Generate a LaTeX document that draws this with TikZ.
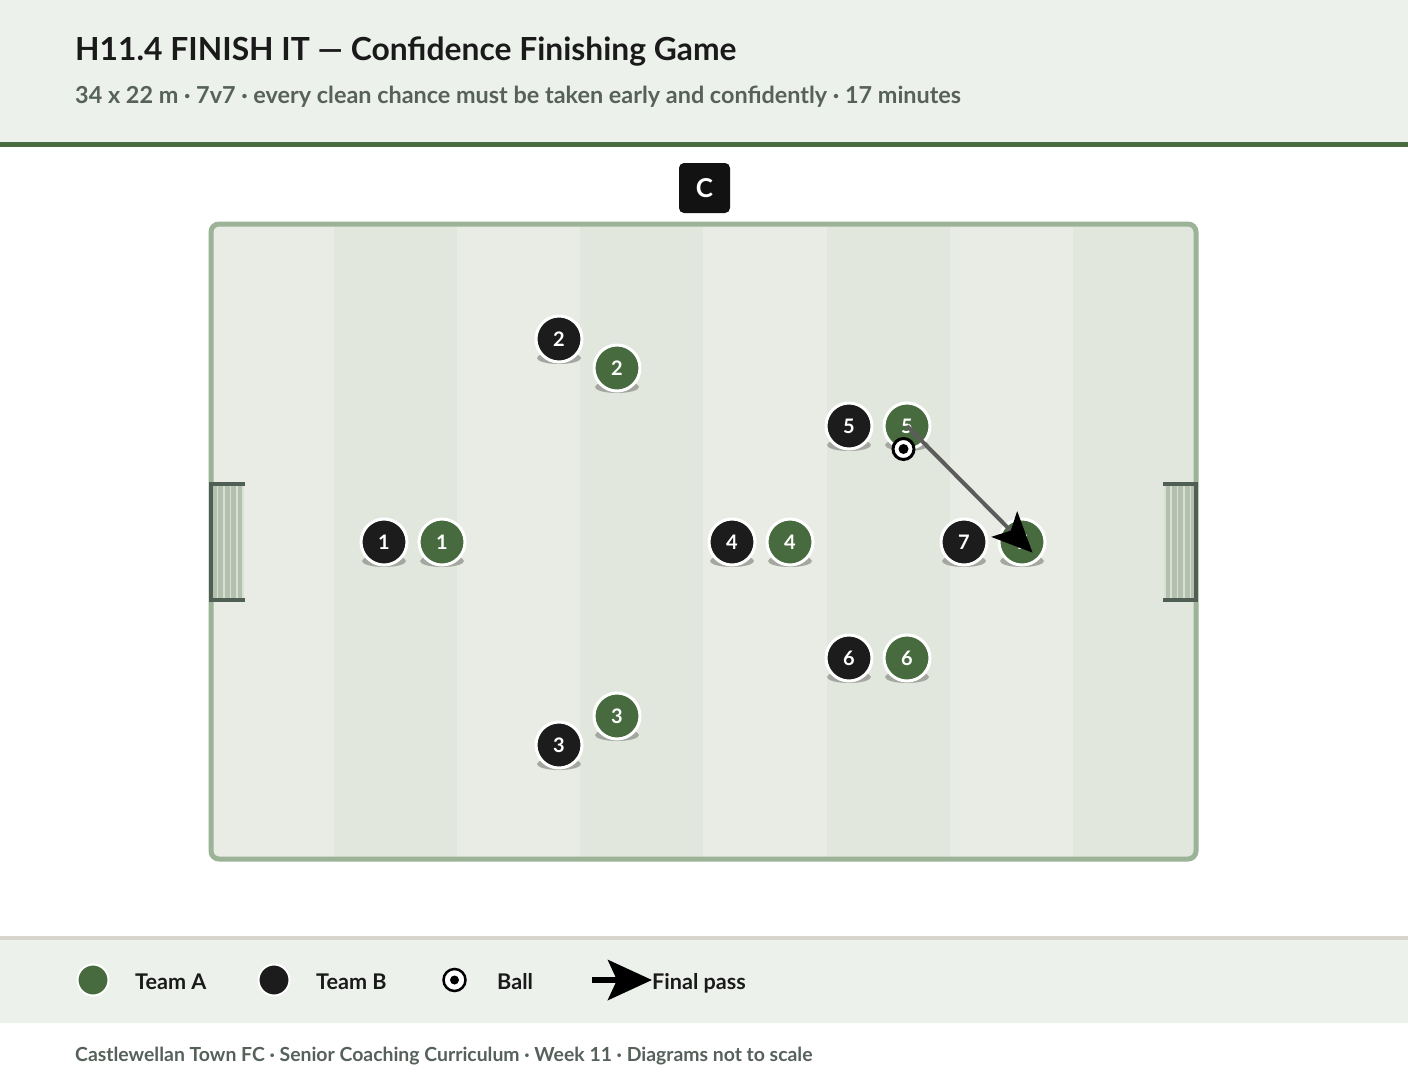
\documentclass[tikz,border=0pt]{standalone}
\usepackage{fontspec}
\setmainfont{Lato}
\usetikzlibrary{arrows.meta,calc}
\definecolor{bandbg}{HTML}{EDF1EC}
\definecolor{rulegreen}{HTML}{4A6B40}
\definecolor{legline}{HTML}{D8D5CD}
\definecolor{stripeL}{HTML}{E8ECE5}
\definecolor{stripeD}{HTML}{E1E7DD}
\definecolor{pitchline}{HTML}{9DB398}
\definecolor{postc}{HTML}{505F53}
\definecolor{netc}{HTML}{B3C0AE}
\definecolor{netl}{HTML}{D9E0D6}
\definecolor{teamA}{HTML}{476B3E}
\definecolor{teamB}{HTML}{1C1C1C}
\definecolor{shadowc}{HTML}{A3A7A0}
\definecolor{titlec}{HTML}{1A1A1A}
\definecolor{subc}{HTML}{55615A}
\definecolor{passc}{HTML}{5C5C5C}
\tikzset{
  plA/.style={circle, fill=teamA, draw=white, line width=3pt, minimum size=46pt,
    inner sep=0pt, text=white, font=\bfseries\fontsize{20}{20}\selectfont},
  plB/.style={plA, fill=teamB},
  ballnode/.style={circle, fill=white, draw=black, line width=3pt, minimum size=21pt, inner sep=0pt},
  legtext/.style={anchor=base west, inner sep=0pt, text=titlec, font=\bfseries\fontsize{21.6}{21.6}\selectfont},
  passarrow/.style={draw=passc, line width=4pt,
    -{Stealth[length=40pt, width=36pt, inset=9pt, fill=black, color=black]}},
}
\newcommand\plyr[5]{%
  \fill[shadowc] (#3,#4+19) ellipse [x radius=22, y radius=6];
  \node[#2] (#1) at (#3,#4) {#5};}
\begin{document}
\begin{tikzpicture}[x=1pt,y=-1pt]
\useasboundingbox (0,0) rectangle (1408,1080);
\fill[white] (0,0) rectangle (1408,1080);
% header
\fill[bandbg] (0,0) rectangle (1408,142);
\fill[rulegreen] (0,142) rectangle (1408,147);
\node[anchor=base west, text=titlec, font=\bfseries\fontsize{31.8}{31.8}\selectfont, inner sep=0pt] (title) at (75,60)
  {H11.4 FINISH IT — Confidence Finishing Game};
\node[anchor=base west, text=subc, font=\bfseries\fontsize{23.4}{23.4}\selectfont, inner sep=0pt] (subtitle) at (75,103)
  {34 x 22 m · 7v7 · every clean chance must be taken early and confidently · 17 minutes};
% pitch stripes
\begin{scope}
  \clip[rounded corners=8pt] (211,224) rectangle (1196,859);
  \foreach \i in {0,...,7} {
    \pgfmathsetmacro\xa{211+\i*123.1}
    \pgfmathsetmacro\xb{211+(\i+1)*123.1}
    \pgfmathtruncatemacro\odd{mod(\i,2)}
    \ifnum\odd=0 \fill[stripeL] (\xa,224) rectangle (\xb,859);
    \else \fill[stripeD] (\xa,224) rectangle (\xb,859); \fi
  }
\end{scope}
\draw[pitchline, line width=5pt, rounded corners=8pt] (211,224) rectangle (1196,859);
% goals
\fill[netc] (213,486) rectangle (244,598);
\foreach \x in {217.5,224,230.5,237,243} \draw[netl, line width=1.5pt] (\x,486) -- (\x,598);
\draw[postc, line width=4pt] (245,484) -- (211,484) -- (211,600) -- (245,600);
\fill[netc] (1164,486) rectangle (1195,598);
\foreach \x in {1165,1171,1177.5,1184,1190.5} \draw[netl, line width=1.5pt] (\x,486) -- (\x,598);
\draw[postc, line width=4pt] (1163,484) -- (1196,484) -- (1196,600) -- (1163,600);
% coach
\node[fill=black!93, rounded corners=5pt, minimum width=51pt, minimum height=50pt, inner sep=0pt,
  text=white, font=\bfseries\fontsize{26}{26}\selectfont] (coach) at (704.5,188) {C};
% players
\plyr{b1}{plB}{384}{542}{1}
\plyr{a1}{plA}{442}{542}{1}
\plyr{b2}{plB}{559}{339}{2}
\plyr{a2}{plA}{617}{368}{2}
\plyr{a3}{plA}{617}{716}{3}
\plyr{b3}{plB}{559}{745}{3}
\plyr{b4}{plB}{732}{542}{4}
\plyr{a4}{plA}{790}{542}{4}
\plyr{b5}{plB}{849}{426}{5}
\plyr{a5}{plA}{907}{426}{5}
\plyr{b6}{plB}{849}{658}{6}
\plyr{a6}{plA}{907}{658}{6}
\plyr{b7}{plB}{964}{542}{7}
\plyr{a7}{plA}{1022}{542}{7}
% ball
\node[ballnode] (ball) at (903.5,449) {};
\fill[black] (ball.center) circle (5);
% pass
\draw[passarrow, shorten >=-15pt] (a5.center) -- (a7.center);
% legend band
\fill[legline] (0,936) rectangle (1408,940);
\fill[bandbg] (0,940) rectangle (1408,1023);
\node[circle, fill=teamA, draw=white, line width=2pt, minimum size=31pt, inner sep=0pt] (lgA) at (93,980) {};
\node[legtext] (lgAt) at (135,989) {Team A};
\node[circle, fill=teamB, draw=white, line width=2pt, minimum size=31pt, inner sep=0pt] (lgB) at (274,980) {};
\node[legtext] (lgBt) at (316,989) {Team B};
\node[circle, fill=white, draw=black, line width=2.5pt, minimum size=22pt, inner sep=0pt] (lgBall) at (454.5,980) {};
\fill[black] (lgBall.center) circle (4.5);
\node[legtext] (lgBallt) at (497,989) {Ball};
\coordinate (lgPs) at (592,980);
\node[legtext] (lgPt) at (652,989) {Final pass};
\draw[black, line width=6pt, -{Stealth[length=44pt, width=40pt, inset=9pt]}] (lgPs) -- (lgPt.west |- lgPs);
% footer
\node[anchor=base west, text=subc, font=\bfseries\fontsize{19.4}{19.4}\selectfont, inner sep=0pt] (footer) at (75,1061)
  {Castlewellan Town FC · Senior Coaching Curriculum · Week 11 · Diagrams not to scale};
\end{tikzpicture}
\end{document}
